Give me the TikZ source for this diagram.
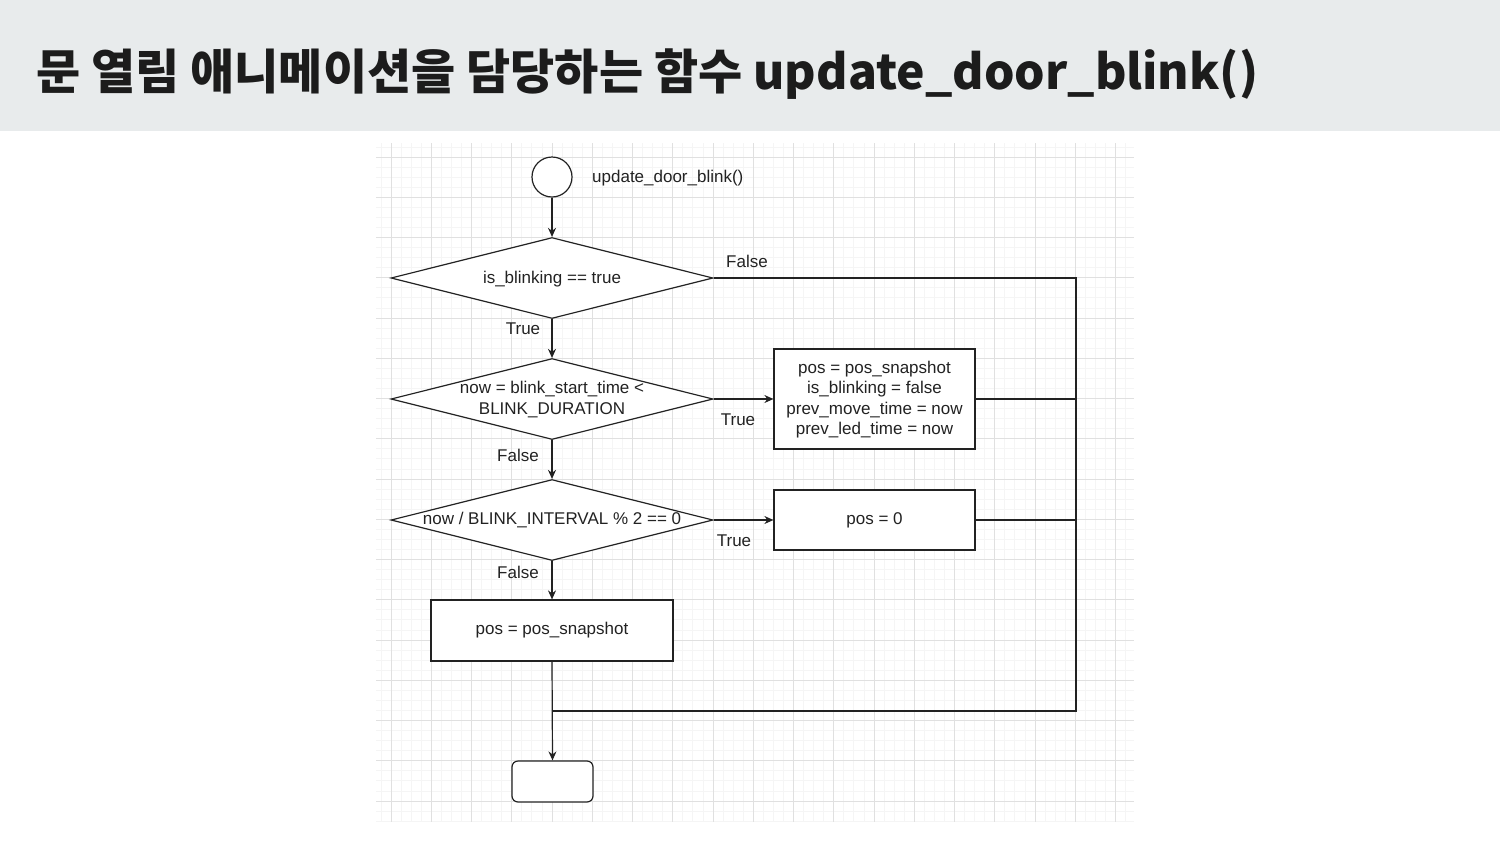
\documentclass[tikz,border=0pt]{standalone}
\usepackage{fontspec}
\setmainfont{Liberation Sans}
\newfontfamily\cjk{Noto Sans CJK KR}
\usetikzlibrary{shapes.geometric,arrows.meta}
\definecolor{titlebg}{HTML}{E8EBEC}
\definecolor{titlefg}{HTML}{1C1C1C}
\definecolor{gridminor}{HTML}{F5F5F5}
\definecolor{gridmajor}{HTML}{E0E0E0}
\definecolor{ink}{HTML}{222222}
\tikzset{
  txt/.style={font=\fontsize{17}{20.3}\selectfont, text=ink, inner sep=0pt, align=center},
  dia/.style={diamond, draw=ink, line width=1.2pt, fill=white, minimum width=322pt, minimum height=81pt, inner sep=0pt, aspect=4},
  boxstep/.style={rectangle, draw=ink, line width=1.2pt, fill=white, inner sep=0pt},
  flow/.style={draw=ink, line width=1.2pt, -{Stealth[length=9pt,width=8pt]}},
  link/.style={draw=ink, line width=1.2pt},
}
\begin{document}
\begin{tikzpicture}[x=1pt,y=-1pt]
\useasboundingbox (0,0) rectangle (1500,844);
% title bar
\fill[titlebg] (0,0) rectangle (1500,131);
\node[anchor=base west, inner sep=0pt, text=titlefg, font=\cjk\bfseries\fontsize{48}{50}\selectfont] (title) at (36,89) {문 열림 애니메이션을 담당하는 함수 update\_door\_blink()};
% grid
\begin{scope}
\clip (376,143) rectangle (1134,822);
\foreach \k in {-2,...,75} {
  \draw[gridminor, line width=0.8pt] ({391+10.0625*\k},143) -- ({391+10.0625*\k},822);
}
\foreach \k in {-2,...,67} {
  \draw[gridminor, line width=0.8pt] (376,{157+10.0625*\k}) -- (1134,{157+10.0625*\k});
}
\foreach \k in {0,...,18} {
  \draw[gridmajor, line width=0.9pt] ({391+40.25*\k},143) -- ({391+40.25*\k},822);
}
\foreach \k in {0,...,16} {
  \draw[gridmajor, line width=0.9pt] (376,{157+40.25*\k}) -- (1134,{157+40.25*\k});
}
\end{scope}
% nodes
\node[circle, draw=ink, line width=1.2pt, fill=white, minimum size=40pt, inner sep=0pt] (start) at (552,177) {};
\node[txt, anchor=west] (fname) at (592,178) {update\_door\_blink()};
\node[dia] (d1) at (552,278) {};
\node[txt] (t1) at (552,279) {is\_blinking == true};
\node[dia] (d2) at (552,399) {};
\node[txt] (t2) at (552,399.5) {now = blink\_start\_time <\\BLINK\_DURATION};
\node[dia] (d3) at (552,520) {};
\node[txt] (t3) at (552,520) {now / BLINK\_INTERVAL \% 2 == 0};
\node[boxstep, minimum width=201pt, minimum height=100pt] (b1) at (874.5,399) {};
\node[txt] (t4) at (874.5,399.5) {pos = pos\_snapshot\\is\_blinking = false\\prev\_move\_time = now\\prev\_led\_time = now};
\node[boxstep, minimum width=201pt, minimum height=60pt] (b2) at (874.5,520) {};
\node[txt] (t5) at (874.5,520) {pos = 0};
\node[boxstep, minimum width=242pt, minimum height=61pt] (b3) at (552,630.5) {};
\node[txt] (t6) at (552,630.5) {pos = pos\_snapshot};
\node[boxstep, rounded corners=6pt, minimum width=81pt, minimum height=41pt] (stop) at (552.5,781.5) {};
% edge labels
\node[txt] (lf1) at (747,261) {False};
\node[txt] (lt1) at (523,329) {True};
\node[txt] (lt2) at (738,420) {True};
\node[txt] (lf2) at (518,455) {False};
\node[txt] (lt3) at (734,541) {True};
\node[txt] (lf3) at (518,572) {False};
% helper coordinates
\coordinate (rail) at (1076,711);
\coordinate (join) at (552,711);
% connectors
\draw[flow] (start) -- (d1.north);
\draw[flow] (d1.south) -- (d2.north);
\draw[flow] (d2.south) -- (d3.north);
\draw[flow] (d3.south) -- (b3.north);
\draw[flow] (d2.east) -- (b1.west);
\draw[flow] (d3.east) -- (b2.west);
\draw[link] (d1.east) -| (rail) -- (join);
\draw[link] (b1.east) -- (b1.east -| rail);
\draw[link] (b2.east) -- (b2.east -| rail);
\draw[flow] (b3.south) -- (stop.north);
\end{tikzpicture}
\end{document}
